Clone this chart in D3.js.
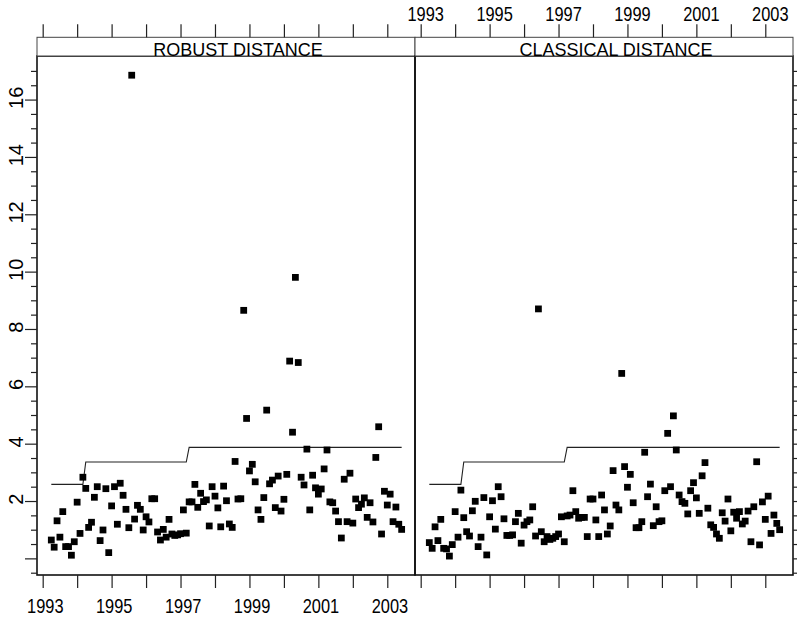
<!DOCTYPE html>
<html><head><meta charset="utf-8">
<script src="https://cdn.jsdelivr.net/npm/d3@7"></script>
<style>body{margin:0;background:#fff}svg{display:block}text{font-family:"Liberation Sans",Arial,Helvetica,sans-serif;fill:#000}</style>
</head><body><svg id="c" width="797" height="618"></svg>
<script>
// ---- data ----
const panelTitles = ["ROBUST DISTANCE", "CLASSICAL DISTANCE"];
const firstMonth = "1993-04";   // monthly observations, April 1993 ... June 2003
const lastMonth = "2003-06";
const robust = [
 0.64,0.39,1.31,0.74,1.63,0.41,0.41,0.11,0.58,1.96,0.87,2.83,
 2.44,1.08,1.26,2.13,2.50,0.62,0.99,2.43,0.20,1.83,2.50,1.19,
 2.62,2.20,1.71,1.07,16.85,1.37,1.85,1.71,0.99,1.45,1.27,2.08,
 2.08,0.92,0.64,1.01,0.74,1.36,0.85,0.80,0.82,0.86,1.69,0.88,
 1.97,1.97,2.58,1.78,2.27,1.98,2.04,1.13,2.50,2.17,1.76,1.10,
 2.52,2.01,1.20,1.08,3.38,2.07,2.08,8.65,4.88,3.05,3.28,2.67,
 1.69,1.36,2.12,5.17,2.60,2.73,1.77,2.87,1.65,2.06,2.93,6.88,
 4.40,9.80,6.83,2.83,2.56,3.81,1.69,2.90,2.46,2.24,2.42,3.12,
 3.78,1.97,1.94,1.65,1.28,0.71,2.76,1.28,2.97,1.23,2.07,1.77,
 1.89,2.11,1.43,1.94,1.27,3.52,4.59,0.85,2.34,1.86,2.24,1.28,
 1.79,1.19,1.01
];
const classical = [
 0.55,0.35,1.10,0.62,1.36,0.35,0.33,0.08,0.48,1.63,0.74,2.38,
 1.42,0.93,0.78,1.66,1.99,0.41,0.74,2.12,0.12,1.45,2.01,1.02,
 2.50,2.15,1.38,0.80,0.80,0.82,1.28,1.57,0.53,1.16,1.28,1.34,
 1.80,0.78,8.70,0.93,0.58,0.76,0.66,0.70,0.76,0.85,1.45,0.58,
 1.48,1.51,2.36,1.63,1.40,1.43,1.43,0.76,2.07,2.07,1.34,0.76,
 2.21,1.69,0.85,1.13,3.06,1.86,1.69,6.45,3.20,2.48,2.93,1.94,
 1.07,1.07,1.28,3.70,2.15,2.59,1.14,1.80,1.28,1.31,2.36,4.36,
 2.50,4.97,3.78,2.21,1.98,1.92,1.55,2.36,2.64,2.11,1.57,2.88,
 3.34,1.75,1.17,1.08,0.85,0.70,1.59,1.30,2.07,0.96,1.61,1.40,
 1.63,1.20,1.30,1.65,0.58,1.80,3.37,0.47,1.97,1.36,2.17,0.87,
 1.51,1.22,1.00
];
const cutoffLevels = [2.58, 3.36, 3.87];
const cutoffStarts = ["1993-04", "1994-04", "1997-04"];
const xTickYears = [1993,1994,1995,1996,1997,1998,1999,2000,2001,2002,2003];
const xLabelYears = [1993,1995,1997,1999,2001,2003];
const yMajor = [0,2,4,6,8,10,12,14,16];
const yLabels = [2,4,6,8,10,12,14,16];
const yMinor = [-0.5,0.5,1,1.5,2.5,3,3.5,4.5,5,5.5,6.5,7,7.5,8.5,9,9.5,10.5,11,11.5,12.5,13,13.5,14.5,15,15.5,16.5,17];

// ---- layout ----
const svg = d3.select("#c");
const parseM = d3.timeParse("%Y-%m");
const months = d3.timeMonth.range(parseM(firstMonth), d3.timeMonth.offset(parseM(lastMonth), 1));
const dec = d => d.getFullYear() + d.getMonth() / 12;
const cutStartsDec = cutoffStarts.map(s => dec(parseM(s)));
const cutoff = months.map(m => { let v = cutoffLevels[0]; cutStartsDec.forEach((s, k) => { if (dec(m) >= s - 1e-9) v = cutoffLevels[k]; }); return v; });

const W = 378, topY = 56, H = 519, stripTop = 37.3;
const panelX = [37, 415];
const x = d3.scaleLinear().domain([1992.835, 2003.804]).range([0, W]);
const y = d3.scaleLinear().domain([-0.58, 17.52]).range([H, 0]);
const series = [robust, classical];

panelX.forEach((px, p) => {
  const g = svg.append("g").attr("transform", `translate(${px},${topY})`);
  // strip
  svg.append("rect").attr("x", px).attr("y", stripTop).attr("width", W).attr("height", topY - stripTop)
    .attr("fill", "#fff").attr("stroke", "#444").attr("stroke-width", 1);
  svg.append("text").attr("x", px + W / 2 + 12).attr("y", topY - 0.5).attr("text-anchor", "middle")
    .attr("font-size", 18).text(panelTitles[p]);

  // cutoff line
  const line = d3.line().x((d, i) => x(dec(months[i]))).y(d => y(d));
  g.append("path").datum(cutoff).attr("d", line).attr("fill", "none").attr("stroke", "#222").attr("stroke-width", 1.1);

  // points
  const sym = d3.symbol().type(d3.symbolSquare).size(46);
  g.selectAll("path.pt").data(series[p]).join("path").attr("class", "pt")
    .attr("transform", (d, i) => `translate(${x(dec(months[i]))},${y(d)})`)
    .attr("d", sym).attr("fill", "#000");

  // frame
  g.append("rect").attr("width", W).attr("height", H).attr("fill", "none").attr("stroke", "#111").attr("stroke-width", 1.6);

  // x ticks bottom & top
  const axB = d3.axisBottom(x).tickValues(xTickYears).tickSize(13).tickFormat("");
  const gb = g.append("g").attr("transform", `translate(0,${H})`).call(axB);
  const axT = d3.axisTop(x).tickValues(xTickYears).tickSize(13).tickFormat("");
  const gt = svg.append("g").attr("transform", `translate(${px},${stripTop})`).call(axT);
  [gb, gt].forEach(a => { a.select(".domain").remove(); a.selectAll("line").attr("stroke", "#222").attr("stroke-width", 1.2); });

  const labY = p === 0 ? 612.7 : 20.7;
  const labOff = p === 0 ? 2.6 : 5;
  xLabelYears.forEach(yr => {
    svg.append("text").attr("transform", `translate(${px + x(yr) + labOff},${labY}) scale(0.82,1)`)
      .attr("text-anchor", "middle").attr("font-size", 20).text(yr);
  });

  // y ticks
  const yAx = p === 0 ? d3.axisLeft(y) : d3.axisRight(y);
  const ga = g.append("g").attr("transform", `translate(${p === 0 ? 0 : W},0)`).call(yAx.tickValues(yMajor).tickSize(12).tickFormat(""));
  const gm = g.append("g").attr("transform", `translate(${p === 0 ? 0 : W},0)`).call((p === 0 ? d3.axisLeft(y) : d3.axisRight(y)).tickValues(yMinor).tickSize(6).tickFormat(""));
  [ga, gm].forEach(a => { a.select(".domain").remove(); a.selectAll("line").attr("stroke", "#222").attr("stroke-width", 1.2); });

  if (p === 0) {
    yLabels.forEach(v => {
      svg.append("text").attr("transform", `translate(23.3,${topY + y(v) - 1.8}) rotate(-90)`)
        .attr("text-anchor", "middle").attr("font-size", 20).text(v);
    });
  }
});
</script></body></html>
